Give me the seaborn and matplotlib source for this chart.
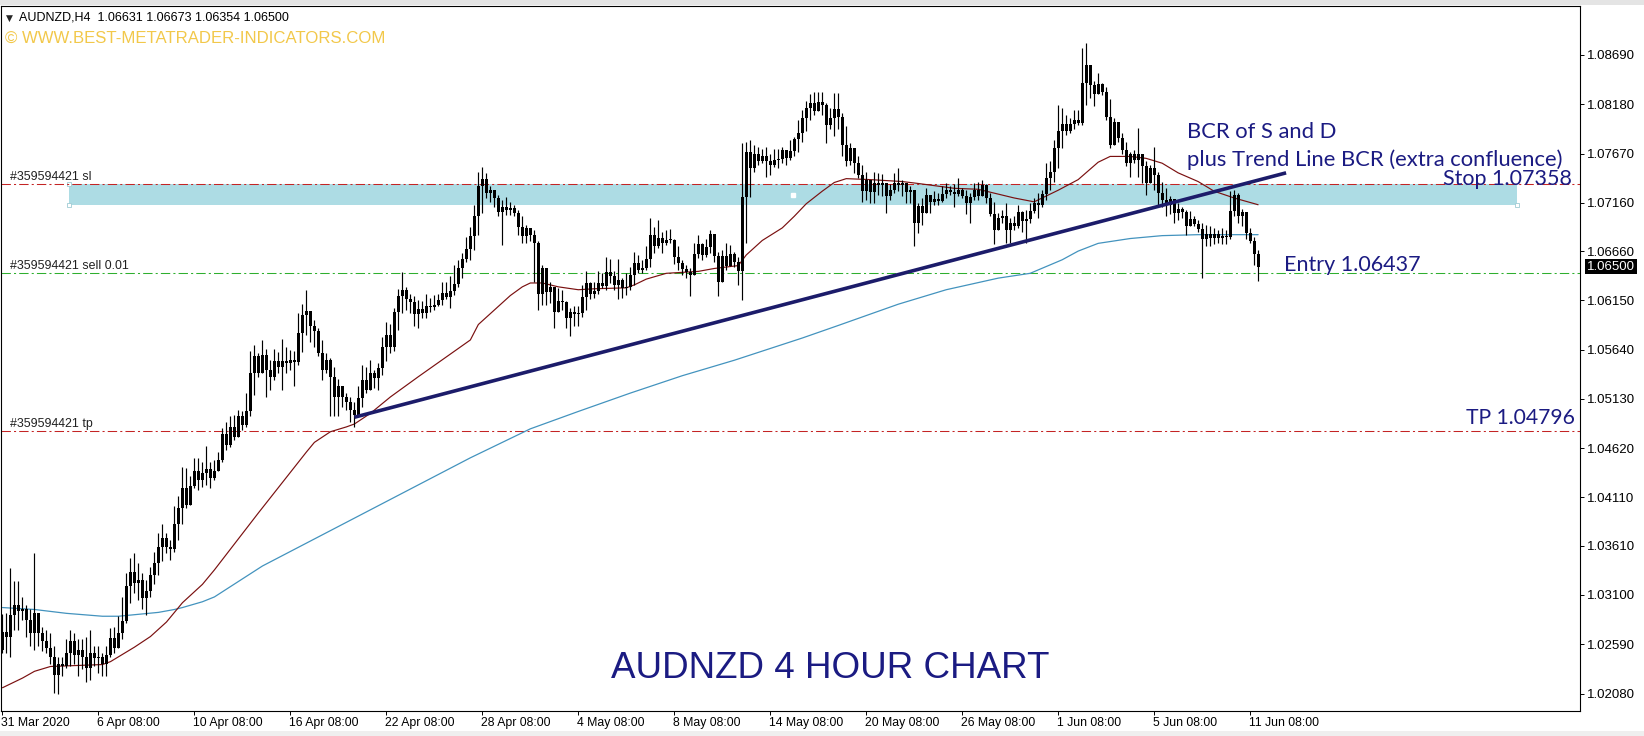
import numpy as np
import pandas as pd
import matplotlib
matplotlib.use("Agg")
import matplotlib.pyplot as plt
import matplotlib.transforms as mtransforms
from matplotlib.patches import Rectangle
import seaborn as sns

sns.set_theme(style="white")
plt.rcParams['font.family'] = ['Liberation Sans', 'DejaVu Sans']

# ---------------- data (prices in pips above 1.0000) ----------------
open0 = 253
close_pips = [
    272, 266, 289, 300, 293, 295, 284, 271, 291, 271,
    262, 255, 246, 227, 239, 237, 250, 262, 248, 253,
    246, 234, 250, 245, 246, 239, 248, 265, 255, 271,
    283, 319, 334, 322, 326, 307, 314, 331, 343, 360,
    369, 360, 358, 384, 400, 421, 403, 423, 438, 429,
    436, 440, 431, 438,
    450, 477, 465, 484, 474, 495, 486, 500, 540, 557,
    540, 558, 543, 536, 552, 546, 552, 550, 553, 551,
    581, 600, 604, 588, 583, 560, 543, 553, 536, 515,
    526, 515, 510, 502, 496, 514, 533, 522, 540, 535,
    545, 567, 579, 567, 603, 619, 626, 616, 613, 601,
    606,
    602, 609, 608, 610, 615, 623, 618, 625, 632, 649,
    658, 668, 682, 702, 733, 741, 726, 729, 721, 706,
    712, 709, 711, 705, 691, 682, 690, 683, 674, 622,
    648, 624, 629, 603, 614, 613, 597, 603, 601, 602,
    618, 633, 622, 625, 633, 630, 644, 640, 631, 636,
    628,
    629, 641, 654, 646, 649, 658, 683, 671, 680, 674,
    678, 677, 660, 654, 647, 644, 641, 663, 673, 662,
    670, 684, 661, 634, 661, 651, 663, 655, 645, 722,
    769, 752, 767, 759, 764, 759, 755, 760, 761, 771,
    762, 770, 782, 788, 804, 814, 819, 811, 820, 817,
    797,
    804, 813, 805, 776, 759, 773, 757, 745, 728, 740,
    727, 736, 734, 736, 723, 729, 737, 734, 737, 727,
    729, 695, 713, 705, 724, 717, 720, 718, 725, 729,
    727, 725, 729, 723, 716, 722, 729, 723, 734, 721,
    704, 688, 700, 702, 688, 695, 692, 706, 697, 699,
    707, 716,
    714, 725, 742, 748, 773, 790, 798, 790, 798, 802,
    799, 840, 859, 838, 829, 839, 831, 805, 776, 800,
    783, 771, 757, 767, 760, 766, 754, 736, 752, 745,
    726, 719, 714, 720, 705, 710, 706, 692, 699, 694,
    689, 679, 684, 680, 684, 680, 682, 681, 707, 724,
    702, 706, 685, 676, 663.1, 650.0,
]
high_pips = [
    290, 291, 338, 324, 324, 308, 300, 295, 353, 291,
    277, 274, 271, 257, 246, 246, 264, 274, 271, 264,
    264, 267, 274, 257, 257, 250, 257, 276, 277, 288,
    308, 333, 348, 353, 343, 333, 326, 339, 355, 374,
    383, 374, 367, 402, 412, 443, 441, 433, 452, 452,
    448, 464, 448, 450,
    458, 483, 489, 495, 496, 502, 500, 519, 563, 569,
    560, 574, 565, 553, 565, 562, 575, 567, 564, 563,
    602, 611, 626, 604, 595, 586, 574, 560, 555, 546,
    534, 526, 519, 515, 510, 526, 548, 546, 553, 543,
    550, 577, 593, 591, 607, 627, 644, 629, 622, 619,
    615,
    614, 622, 617, 621, 622, 634, 634, 640, 652, 657,
    664, 681, 691, 714, 748, 753, 747, 733, 728, 724,
    719, 722, 717, 714, 709, 702, 693, 690, 688, 676,
    652, 638, 634, 624, 628, 626, 614, 607, 609, 609,
    631, 645, 634, 634, 645, 643, 660, 658, 645, 658,
    638,
    643, 650, 665, 662, 657, 671, 700, 691, 698, 686,
    688, 689, 679, 671, 657, 652, 648, 674, 683, 674,
    679, 688, 684, 665, 667, 674, 672, 665, 660, 778,
    779, 781, 776, 774, 772, 774, 767, 772, 772, 774,
    771, 781, 784, 802, 812, 821, 829, 831, 831, 831,
    819,
    814, 830, 830, 809, 795, 778, 769, 764, 755, 748,
    736, 748, 747, 746, 736, 735, 747, 752, 740, 736,
    733, 728, 716, 721, 731, 723, 728, 726, 733, 737,
    733, 735, 742, 731, 729, 726, 736, 738, 740, 735,
    726, 717, 705, 709, 716, 700, 702, 714, 707, 709,
    716, 721,
    726, 729, 757, 759, 781, 817, 814, 807, 804, 812,
    812, 876, 881, 854, 842, 850, 840, 836, 823, 804,
    797, 788, 779, 769, 771, 793, 766, 759, 755, 774,
    748, 738, 731, 723, 717, 716, 712, 709, 707, 702,
    698, 695, 693, 692, 690, 688, 690, 688, 728, 729,
    726, 710, 698, 690, 681, 667.3,
]
low_pips = [
    250, 250, 246, 274, 274, 284, 267, 257, 253, 257,
    252, 250, 239, 209, 208, 226, 234, 236, 239, 226,
    233, 220, 222, 236, 229, 226, 226, 246, 250, 257,
    264, 281, 302, 312, 305, 295, 289, 308, 321, 331,
    345, 353, 346, 355, 367, 383, 400, 412, 421, 419,
    422, 424, 421, 429,
    440, 448, 460, 463, 470, 474, 481, 484, 495, 517,
    536, 541, 515, 522, 533, 540, 522, 540, 543, 526,
    548, 562, 579, 572, 567, 557, 533, 540, 495, 495,
    495, 505, 502, 489, 484, 495, 505, 519, 526, 524,
    522, 538, 552, 560, 563, 584, 602, 605, 602, 588,
    586,
    597, 597, 603, 605, 609, 610, 616, 607, 621, 629,
    638, 655, 657, 667, 683, 705, 721, 717, 712, 702,
    672, 703, 703, 702, 683, 674, 674, 676, 634, 605,
    610, 610, 612, 586, 609, 605, 586, 578, 588, 588,
    598, 605, 616, 617, 622, 628, 626, 633, 626, 616,
    617,
    621, 626, 631, 643, 643, 646, 650, 664, 669, 664,
    672, 674, 653, 646, 641, 638, 619, 641, 659, 657,
    660, 664, 655, 619, 646, 646, 659, 650, 631, 615,
    674, 722, 748, 755, 757, 743, 745, 753, 752, 757,
    755, 760, 764, 769, 779, 790, 802, 807, 812, 807,
    778,
    792, 785, 792, 764, 754, 755, 747, 742, 717, 719,
    716, 716, 724, 723, 705, 719, 726, 728, 723, 716,
    716, 671, 685, 693, 707, 705, 714, 714, 717, 721,
    724, 712, 723, 721, 704, 695, 719, 719, 724, 716,
    702, 673, 693, 695, 674, 674, 688, 690, 686, 674,
    695, 705,
    700, 712, 719, 729, 738, 752, 773, 786, 788, 792,
    797, 797, 817, 824, 816, 833, 828, 802, 773, 776,
    779, 767, 754, 743, 757, 743, 736, 724, 736, 729,
    714, 712, 702, 704, 695, 698, 700, 683, 695, 692,
    686, 638, 671, 671, 673, 674, 673, 673, 679, 702,
    695, 692, 679, 674, 652, 635.4,
]

# moving averages (sampled at bar indices)
ma_red_bars = [0, 5, 8, 12, 25, 27, 33, 37, 41, 45, 50, 53, 64, 76, 78, 82, 86, 88, 92, 97,
               104, 117, 119, 123, 127, 130, 132, 135, 139, 144, 148, 156, 158, 161, 166, 174,
               178, 184, 186, 190, 195, 198, 201, 205, 208, 211, 217, 225, 229, 238, 244, 248,
               253, 258, 260, 264, 269, 274, 277, 282, 286, 290, 294, 299, 303, 308, 314]
ma_red_pips = [214, 224, 231, 236, 238, 241, 256, 267, 282, 302, 321, 336, 395, 458, 468, 479, 484, 487, 498, 515,
               536, 574, 590, 605, 620, 629, 633, 633, 629, 626, 627, 628, 631, 637, 643, 645,
               648, 651, 662, 677, 690, 702, 715, 728, 737, 741, 740, 738, 736, 731, 730, 726,
               721, 717, 721, 729, 740, 758, 764, 764, 762, 757, 747, 738, 728, 721, 714]
ma_blue_bars = [0, 8, 16, 25, 29, 34, 39, 43, 45, 50, 53, 65, 78, 91, 104, 117, 132, 144, 157, 170,
                183, 200, 209, 224, 236, 249, 257, 261, 265, 269, 274, 282, 290, 299, 314]
ma_blue_pips = [297, 295, 291, 288, 288, 290, 292, 295, 297, 303, 308, 340, 368, 396, 424, 452, 482, 500, 519, 537,
                553, 576, 589, 611, 626, 638, 643, 650, 657, 666, 674, 679, 682, 683, 683]

# levels / objects
stop_price = 1.07358
entry_price = 1.06437
tp_price = 1.04796
last_price = 1.06500
zone_bars = [16.75, 378.75]
zone_prices = [1.07137, 1.07352]
trend_bars = [88, 321]
trend_prices = [1.0494, 1.0747]

ytick_labels = ["1.08690", "1.08180", "1.07670", "1.07160", "1.06660", "1.06150", "1.05640",
                "1.05130", "1.04620", "1.04110", "1.03610", "1.03100", "1.02590", "1.02080"]
xtick_bars = [0, 24, 48, 72, 96, 120, 144, 168, 192, 216, 240, 264, 288, 312]
xtick_labels = ["31 Mar 2020", "6 Apr 08:00", "10 Apr 08:00", "16 Apr 08:00", "22 Apr 08:00",
                "28 Apr 08:00", "4 May 08:00", "8 May 08:00", "14 May 08:00", "20 May 08:00",
                "26 May 08:00", "1 Jun 08:00", "5 Jun 08:00", "11 Jun 08:00"]

# ---------------- build OHLC ----------------
PIP = 0.0001
c = 1.0 + np.array(close_pips, dtype=float) * PIP
o = np.concatenate([[1.0 + open0 * PIP], c[:-1]])
h = np.maximum(1.0 + np.array(high_pips, dtype=float) * PIP, np.maximum(o, c))
l = np.minimum(1.0 + np.array(low_pips, dtype=float) * PIP, np.minimum(o, c))
idx = np.arange(len(c))
df = pd.DataFrame({"bar": idx, "open": o, "high": h, "low": l, "close": c})

red_df = pd.DataFrame({"bar": ma_red_bars, "price": 1.0 + np.array(ma_red_pips) * PIP})
blue_df = pd.DataFrame({"bar": ma_blue_bars, "price": 1.0 + np.array(ma_blue_pips) * PIP})

# ---------------- figure ----------------
W, H = 1644, 736
fig = plt.figure(figsize=(W / 100, H / 100), dpi=100)
fig.patch.set_facecolor("white")
ax = fig.add_axes([0.5 / W, 25 / H, 1579.5 / W, 705 / H])
ax.set_facecolor("white")

ymin, ymax = 1.018991, 1.091972
ax.set_ylim(ymin, ymax)
ax.set_xlim(-0.5, 394.5)

navy = "#1B1B82"

# zone rectangle
ax.add_patch(Rectangle((zone_bars[0], zone_prices[0]), zone_bars[1] - zone_bars[0],
                       zone_prices[1] - zone_prices[0], facecolor="#ADDCE4",
                       edgecolor="none", zorder=1))
ax.plot([zone_bars[0], zone_bars[0], zone_bars[1]], [zone_prices[1], zone_prices[0], zone_prices[0]],
        linestyle="none", marker="s", ms=3, mfc="white", mec="#9FCBD3", mew=0.6, zorder=1.5)
ax.plot([(zone_bars[0] + zone_bars[1]) / 2], [(zone_prices[0] + zone_prices[1]) / 2],
        linestyle="none", marker="s", ms=2.5, mfc="white", mec="white", zorder=1.5)

# horizontal order lines
dash = (0, (9, 3, 2, 3))
ax.axhline(stop_price, color="#C42424", lw=0.75, linestyle=dash, zorder=2)
ax.axhline(tp_price, color="#C42424", lw=0.75, linestyle=dash, zorder=2)
ax.axhline(entry_price, color="#2FAF2F", lw=0.75, linestyle=dash, zorder=2)

# moving averages
sns.lineplot(data=blue_df, x="bar", y="price", ax=ax, color="#4393BE", lw=0.9,
             estimator=None, sort=True, zorder=2.5)
sns.lineplot(data=red_df, x="bar", y="price", ax=ax, color="#7A1010", lw=0.85,
             estimator=None, sort=True, zorder=2.5)

# candles
ax.vlines(df["bar"], df["low"], df["high"], color="black", lw=0.85, zorder=3)
body_h = np.maximum(np.abs(df["close"] - df["open"]), 1.05e-4)
ax.bar(df["bar"], body_h, bottom=np.minimum(df["open"], df["close"]), width=0.8,
       color="black", linewidth=0, zorder=3.2)

# trend line
ax.plot(trend_bars, trend_prices, color="#1C1C6A", lw=2.6, solid_capstyle="butt", zorder=4)

# order labels
for txt, price in [("#359594421 sl", stop_price), ("#359594421 sell 0.01", entry_price),
                   ("#359594421 tp", tp_price)]:
    ax.text(2, price + 0.00070, txt, fontsize=8.9, color="#202020", va="center", ha="left", zorder=5)

# annotations
ann = dict(family=["Lato", "DejaVu Sans"], color=navy, va="center", ha="left", zorder=6)
ax.text(296.25, 1.07893, "BCR of S and D", fontsize=15.8, **ann)
ax.text(296.25, 1.07603, "plus Trend Line BCR (extra confluence)", fontsize=15.8, **ann)
ax.text(320.5, 1.06516, "Entry 1.06437", fontsize=15.5, **ann)
ax.text(366, 1.04932, "TP 1.04796", fontsize=15.2, **ann)
ann_r = dict(ann)
ann_r["ha"] = "right"
ax.text(392.5, 1.07406, "Stop 1.07358", fontsize=15.5, **ann_r)
ax.text(152.25, 1.02344, "AUDNZD 4 HOUR CHART", fontsize=26.5, color=navy, va="center",
        ha="left", zorder=6)

# axes styling
for s in ax.spines.values():
    s.set_color("black")
    s.set_linewidth(0.8)
ax.yaxis.tick_right()
ax.set_yticks([float(t) for t in ytick_labels])
ax.set_yticklabels(ytick_labels)
ax.set_xticks(xtick_bars)
ax.set_xticklabels(xtick_labels, ha="left")
ax.tick_params(axis="y", which="both", right=True, left=False, direction="out", length=3,
               width=0.7, pad=2, labelsize=9.5, colors="black")
ax.tick_params(axis="x", which="both", bottom=True, direction="out", length=3, width=0.7,
               pad=1.5, labelsize=8.8, colors="black")
offset = mtransforms.ScaledTranslation(-1 / 100, 0, fig.dpi_scale_trans)
for lab in ax.get_xticklabels():
    lab.set_transform(lab.get_transform() + offset)
ax.set_xlabel("")
ax.set_ylabel("")
ax.grid(False)

# current price box
trans = mtransforms.blended_transform_factory(ax.transAxes, ax.transData)
ax.text(1.0 + 7 / 1579.5, last_price, f"{last_price:.5f}", transform=trans, fontsize=9.5,
        color="white", va="center", ha="left", clip_on=False, zorder=7,
        bbox=dict(facecolor="black", edgecolor="none", pad=1.2))

# header & watermark
fig.text(6 / W, 1 - 18 / H, "▼", fontsize=6.5, family=["DejaVu Sans"], va="center", ha="left")
fig.text(19 / W, 1 - 18 / H, "AUDNZD,H4  1.06631 1.06673 1.06354 1.06500", fontsize=9,
         color="black", va="center", ha="left")
fig.text(5 / W, 1 - 38 / H, "© WWW.BEST-METATRADER-INDICATORS.COM", fontsize=12.1,
         color="#F2C84A", va="center", ha="left")

# window chrome strips
fig.patches.append(Rectangle((0, 1 - 5 / H), 1, 5 / H, transform=fig.transFigure,
                             facecolor="#E4E4E4", edgecolor="none", zorder=0))
fig.patches.append(Rectangle((0, 0), 1, 5 / H, transform=fig.transFigure,
                             facecolor="#EFEFEF", edgecolor="none", zorder=0))

fig.savefig("out.png", dpi=100, facecolor="white")
